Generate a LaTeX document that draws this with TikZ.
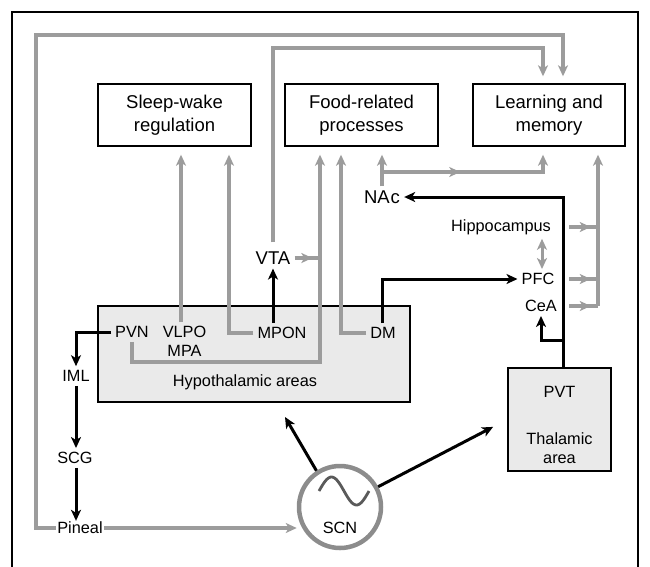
\documentclass[tikz,border=0pt]{standalone}
\usepackage{fontspec}
\setmainfont{Liberation Sans}
\usetikzlibrary{arrows.meta,shapes,positioning,calc,decorations.markings}
\definecolor{linegray}{HTML}{9C9C9C}
\definecolor{ringgray}{HTML}{8C8C8C}
\definecolor{wavegray}{HTML}{5A5A5A}
\definecolor{areagray}{HTML}{EAEAEA}
\tikzstyle{outcome} = [rectangle, draw, line width=1.4pt, align=center,
    minimum width=153pt, minimum height=62pt, font=\fontsize{18.5}{23}\selectfont]
\tikzstyle{areabox} = [rectangle, draw, line width=1.4pt, fill=areagray]
\tikzstyle{site} = [inner sep=4pt, font=\fontsize{16.3}{19.6}\selectfont]
\tikzstyle{bigsite} = [inner sep=4pt, font=\fontsize{18.5}{22}\selectfont]
\tikzstyle{gline} = [draw, linegray, line width=3.6pt, ->]
\tikzstyle{bline} = [draw, black, line width=3pt, ->]
\tikzstyle{tobox} = [shorten >=8pt]
\tikzset{>={Stealth[length=11pt,width=10pt,inset=3pt]},
    midarrow/.style={decoration={markings, mark=at position #1 with {\arrow{>}}}, postaction={decorate}}}

\begin{document}
\begin{tikzpicture}[x=1pt, y=-1pt]
    \useasboundingbox (0,0) rectangle (650,566);
    \draw [line width=1.6pt] (12,580) -- (12,12) -- (638,12) -- (638,580);

    % Place nodes
    \node [outcome] (sleep) at (174.5,115) {Sleep-wake\\regulation};
    \node [outcome] (food) at (361.5,115) {Food-related\\processes};
    \node [outcome, minimum width=152pt] (learn) at (549,115) {Learning and\\memory};

    \node [areabox, minimum width=312pt, minimum height=96pt] (hypo) at (254,354) {};
    \node [site] (hypolabel) at (245,382) {Hypothalamic areas};
    \node [areabox, minimum width=103pt, minimum height=103pt] (pvt) at (559.5,419.5) {};
    \node [site] (pvtlabel) at (559.5,392) {PVT};
    \node [site, align=center] (thallabel) at (559.5,448) {Thalamic\\area};

    \node [circle, draw=ringgray, line width=4.5pt, minimum size=82pt, inner sep=0pt] (scn) at (340,507) {};
    \node [site] (scnlabel) at (340,528) {SCN};

    \node [bigsite] (vta) at (273,258) {VTA};
    \node [bigsite] (nac) at (382,197) {NA\kern1pt c};
    \node [site] (hippo) at (501,227) {Hippocampus};
    \node [site] (pfc) at (538,279) {PFC};
    \node [site] (cea) at (541,306) {CeA};
    \node [site] (pvn) at (132,332) {PVN};
    \node [site] (vlpo) at (184.5,332) {VLPO};
    \node [site] (mpa) at (184.5,351) {MPA};
    \node [site] (mpon) at (282,333) {MPON};
    \node [site] (dm) at (383,333) {DM};
    \node [site] (iml) at (76,376) {IML};
    \node [site] (scg) at (75,458) {SCG};
    \node [site, inner sep=1pt] (pineal) at (80,528) {Pineal};

    \coordinate (outerL) at (36,35);
    \coordinate (innerT) at (273,48);
    \coordinate (pvnbus) at (320,362);
    \coordinate (nacbus) at (382,172);
    \coordinate (busS) at (569,306);
    \coordinate (busB) at (598,306);
    \coordinate (ceabranch) at (563,340);
    \coordinate (hypoin) at (285,417);

    % grey pathways
    \path [gline, shorten >=7pt] (pineal.west) -| (outerL) -| ([xshift=14pt]learn.north);
    \path [gline, shorten >=7pt, shorten <=5pt] (vta.north) -- (innerT) -| ([xshift=-6pt]learn.north);
    \path [gline, tobox] ([xshift=-3.5pt]vlpo.north) -- ([xshift=-3.5pt]vlpo.north |- sleep.south);
    \path [gline, tobox] (mpon.west) -| ([xshift=54.5pt]sleep.south);
    \path [gline, tobox] (pvn.south) |- (pvnbus) -- ([xshift=-41.5pt]food.south);
    \path [gline, -, midarrow=0.7] (vta.east) -- (vta.east -| pvnbus);
    \path [gline, tobox] (dm.west) -| ([xshift=-20.5pt]food.south);
    \path [gline, tobox] (nac.north) -- (nac.north |- food.south);
    \path [gline, tobox, midarrow=0.42] (nacbus) -| ([xshift=-6pt]learn.south);
    \path [gline, -, midarrow=0.75] (hippo -| busS) -- (hippo -| busB);
    \path [gline, -, midarrow=0.75] (pfc -| busS) -- (pfc -| busB);
    \path [gline, -, midarrow=0.75] (cea -| busS) -- (busB);
    \path [gline, tobox] (busB) -- (busB |- learn.south);
    \path [gline, <->, line width=3pt] ([xshift=4pt]pfc.north) -- ([xshift=4pt]pfc.north |- hippo.south);
    \path [gline] (pineal.east) -- (pineal.east -| scn.west);

    % black pathways
    \path [bline] (pvn.west) -| (iml.north);
    \path [bline] (iml.south) -- (iml.south |- scg.north);
    \path [bline] (scg.south -| iml) -- (pineal.north -| iml);
    \path [bline] ([xshift=-9pt]mpon.north) -- (vta.south);
    \path [bline] ([xshift=-1pt]dm.north) |- (pfc.west);
    \path [bline] ([xshift=3.5pt]pvt.north) |- (nac.east);
    \path [bline] (ceabranch) -| (cea.south);
    \path [bline] (scn.123) -- (hypoin);
    \path [bline, shorten >=16pt] (scn.28) -- (pvt.west);

    \draw [wavegray, line width=2.8pt, shift={(scn.center)}, domain=0:1, samples=40, smooth]
        plot ({-21+50*\x}, {-16-14*sin(360*\x)});
\end{tikzpicture}
\end{document}
